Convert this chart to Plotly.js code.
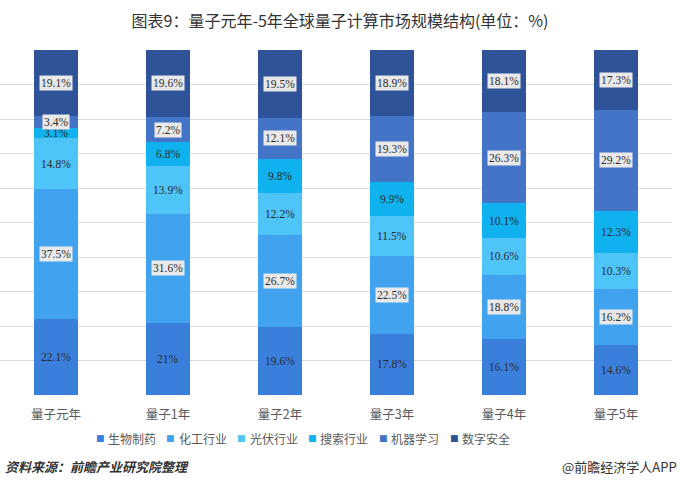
<!DOCTYPE html>
<html><head><meta charset="utf-8">
<script src="https://cdn.plot.ly/plotly-3.0.1.min.js"></script>
<style>html,body{margin:0;padding:0;background:#fff}#c{width:680px;height:487px}</style>
</head><body><div id="c"></div>
<script>
const categories = ['量子元年','量子1年','量子2年','量子3年','量子4年','量子5年'];
const seriesNames = ['生物制药','化工行业','光伏行业','搜索行业','机器学习','数字安全'];
const bio     = [22.1, 21, 19.6, 17.8, 16.1, 14.6];
const chem    = [37.5, 31.6, 26.7, 22.5, 18.8, 16.2];
const solar   = [14.8, 13.9, 12.2, 11.5, 10.6, 10.3];
const search  = [3.1, 6.8, 9.8, 9.9, 10.1, 12.3];
const ml      = [3.4, 7.2, 12.1, 19.3, 26.3, 29.2];
const security= [19.1, 19.6, 19.5, 18.9, 18.1, 17.3];

const series = [bio, chem, solar, search, ml, security];
const colors = ['#3b7fdc','#41a3ef','#4fc4f7','#0fb1ef','#4474c8','#2f5398'];
const boxed  = [false, true, false, false, true, true];

const traces = series.map((vals,i)=>({
  type:'bar', name:seriesNames[i], x:categories, y:vals,
  marker:{color:colors[i], line:{width:0}}, width:0.39, hoverinfo:'skip', showlegend:false
}));

const annotations = [];
categories.forEach((cat,ci)=>{
  let base = 0;
  series.forEach((vals,si)=>{
    const v = vals[ci];
    annotations.push({
      x:cat, y:base+v/2, xref:'x', yref:'y', text:v+'%', showarrow:false,
      font:{family:'"Liberation Serif", "Times New Roman", serif', size:11.5, color:'#2b2b2b'},
      bgcolor: boxed[si] ? '#e9e9e9' : 'rgba(0,0,0,0)',
      borderpad: 1
    });
    base += v;
  });
});

// custom legend (square + name), laid out horizontally
const plotW = 672;
seriesNames.forEach((nm,i)=>{
  const px = 100 + i*70.8;
  annotations.push({
    xref:'paper', yref:'paper', x:px/plotW, xanchor:'center', y:-0.125, yanchor:'middle',
    text:'■', showarrow:false, font:{family:'"DejaVu Sans", sans-serif', size:9, color:colors[i]}
  });
  annotations.push({
    xref:'paper', yref:'paper', x:(px+6)/plotW, xanchor:'left', y:-0.125, yanchor:'middle',
    text:nm, showarrow:false, font:{family:'"Noto Sans CJK SC", sans-serif', size:12, color:'#595959'}
  });
});

annotations.push({
  xref:'paper', yref:'paper', x:0.005, xanchor:'left', y:-0.206, yanchor:'middle',
  text:'<b><i>资料来源：前瞻产业研究院整理</i></b>', showarrow:false,
  font:{family:'"Noto Sans CJK SC", sans-serif', size:13, color:'#333'}
});
annotations.push({
  xref:'paper', yref:'paper', x:1.01, xanchor:'right', y:-0.206, yanchor:'middle',
  text:'@前瞻经济学人APP', showarrow:false,
  font:{family:'"Noto Sans CJK SC", sans-serif', size:13, color:'#333'}
});

const layout = {
  width:680, height:487,
  margin:{l:0, r:8, t:50, b:92},
  paper_bgcolor:'#fff', plot_bgcolor:'#fff',
  barmode:'stack',
  title:{text:'图表9：量子元年-5年全球量子计算市场规模结构(单位：%)', x:0.5, xanchor:'center', y:0.957, yanchor:'middle',
    font:{family:'"Noto Sans CJK SC", sans-serif', size:16, color:'#333'}},
  xaxis:{type:'category', range:[-0.5,5.5], showgrid:false, showline:false, zeroline:false,
    ticks:'', ticklabelstandoff:10, tickfont:{family:'"Noto Sans CJK SC", serif', size:12.5, color:'#595959'}},
  yaxis:{range:[0,100], dtick:10, showgrid:true, gridcolor:'#d9d9d9', gridwidth:1,
    showticklabels:false, zeroline:false, showline:false, ticks:''},
  showlegend:false,
  annotations
};
Plotly.newPlot('c', traces, layout, {displayModeBar:false, staticPlot:true});
</script></body></html>
